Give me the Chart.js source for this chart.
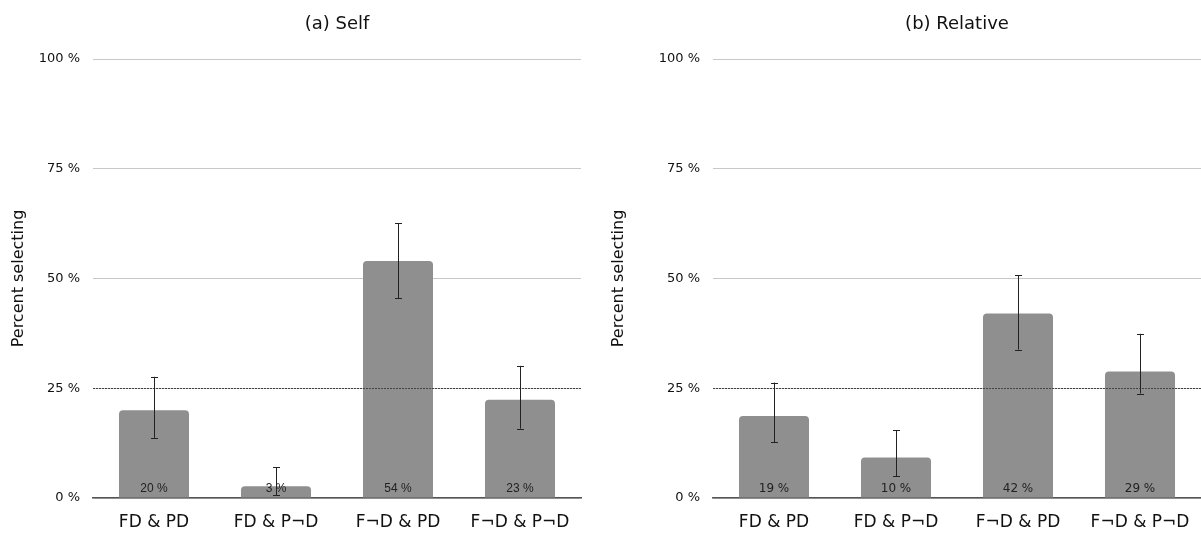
<!DOCTYPE html>
<html><head><meta charset="utf-8">
<script src="https://cdn.jsdelivr.net/npm/chart.js@4"></script>
<style>
html,body{margin:0;padding:0;background:#fff;width:1201px;height:533px;overflow:hidden}
.box{position:absolute;top:0;height:533px}
</style></head><body>
<div class="box" style="left:0;width:600px"><canvas id="c1"></canvas></div>
<div class="box" style="left:600px;width:601px"><canvas id="c2"></canvas></div>
<script>
const categories = ['FD & PD', 'FD & P¬D', 'F¬D & PD', 'F¬D & P¬D'];
const yTicks = [0, 25, 50, 75, 100];
const chanceLevel = 25;

const selfValues = [20, 2.7, 54, 22.4];
const selfLabels = ['20 %', '3 %', '54 %', '23 %'];
const selfErrLow = [13.7, 0.7, 45.5, 15.8];
const selfErrHigh = [27.6, 7.0, 62.6, 30.1];

const relValues = [18.7, 9.2, 42, 28.8];
const relLabels = ['19 %', '10 %', '42 %', '29 %'];
const relErrLow = [12.7, 5.0, 33.8, 23.8];
const relErrHigh = [26.3, 15.4, 50.8, 37.4];

const FONT = 'DejaVu Sans';

const overlay = {
  id: 'overlay',
  afterDatasetsDraw(chart, args, opts) {
    const ctx = chart.ctx, x = chart.scales.x, y = chart.scales.y, a = chart.chartArea;
    ctx.save();
    // title centered over plot area
    ctx.fillStyle = '#111';
    ctx.font = '18px "' + FONT + '"';
    ctx.textAlign = 'center';
    ctx.textBaseline = 'middle';
    ctx.fillText(opts.title, (a.left + a.right) / 2, 24);
    // chance line
    const yc = Math.round(y.getPixelForValue(chanceLevel)) + 0.5;
    ctx.strokeStyle = '#444';
    ctx.lineWidth = 1;
    ctx.setLineDash([2, 1]);
    ctx.beginPath(); ctx.moveTo(a.left, yc); ctx.lineTo(a.right, yc); ctx.stroke();
    ctx.setLineDash([]);
    // labels
    ctx.fillStyle = '#222';
    ctx.font = '12px "' + opts.labelFont + '"';
    opts.labels.forEach((t, i) => {
      ctx.fillText(t, x.getPixelForValue(i), y.getPixelForValue(0) - 9);
    });
    // error bars
    ctx.strokeStyle = '#222';
    ctx.lineWidth = 1;
    opts.low.forEach((lo, i) => {
      const cx = Math.round(x.getPixelForValue(i)) + 0.5;
      const y1 = y.getPixelForValue(lo), y2 = y.getPixelForValue(opts.high[i]);
      ctx.beginPath();
      ctx.moveTo(cx, y1); ctx.lineTo(cx, y2);
      ctx.moveTo(cx - 3.5, Math.round(y1) + 0.5); ctx.lineTo(cx + 3.5, Math.round(y1) + 0.5);
      ctx.moveTo(cx - 3.5, Math.round(y2) + 0.5); ctx.lineTo(cx + 3.5, Math.round(y2) + 0.5);
      ctx.stroke();
    });
    ctx.restore();
  }
};

function make(id, title, values, labels, low, high, yWidth, padRight, labelFont) {
  return new Chart(document.getElementById(id), {
    type: 'bar',
    data: { labels: categories, datasets: [{
      data: values,
      backgroundColor: '#8f8f8f',
      borderRadius: { topLeft: 4, topRight: 4, bottomLeft: 0, bottomRight: 0 },
      borderSkipped: 'bottom',
      categoryPercentage: 1,
      barPercentage: 0.574
    }]},
    options: {
      responsive: true,
      maintainAspectRatio: false,
      animation: false,
      events: [],
      layout: { padding: { top: 59, right: padRight, left: 0, bottom: 0 } },
      plugins: {
        legend: { display: false },
        tooltip: { enabled: false },
        title: { display: false },
        overlay: { title, labels, low, high, labelFont }
      },
      scales: {
        x: {
          grid: { display: false, drawTicks: false },
          border: { display: true, color: '#555', width: 1.5 },
          ticks: { color: '#111', font: { family: FONT, size: 17 }, padding: 14, maxRotation: 0 },
          afterFit(s) { s.height = 35; s.paddingLeft = 0; s.paddingRight = 0; }
        },
        y: {
          min: 0, max: 100,
          afterBuildTicks(s) { s.ticks = yTicks.map(v => ({ value: v })); },
          grid: { color: '#c8c8c8', drawTicks: false, lineWidth: 1 },
          border: { display: false },
          ticks: { color: '#111', font: { family: FONT, size: 13 }, padding: 13,
            callback: v => v + ' %' },
          title: { display: true, text: 'Percent selecting', color: '#111',
            font: { family: FONT, size: 16 }, padding: { top: 9, bottom: 10 } },
          afterFit(s) { s.width = yWidth; }
        }
      }
    },
    plugins: [overlay]
  });
}

make('c1', '(a) Self', selfValues, selfLabels, selfErrLow, selfErrHigh, 93, 19, 'Liberation Sans');
make('c2', '(b) Relative', relValues, relLabels, relErrLow, relErrHigh, 113, 0, FONT);
</script>
</body></html>
